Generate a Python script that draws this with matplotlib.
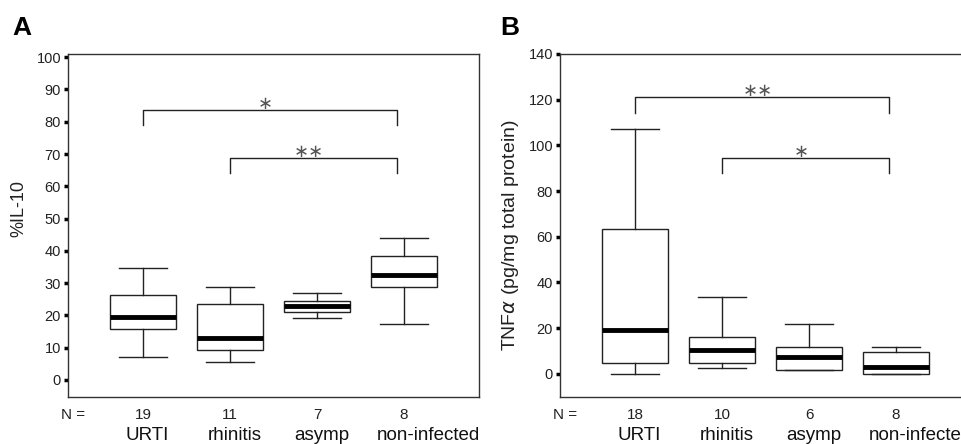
import matplotlib
matplotlib.use("Agg")
import matplotlib.pyplot as plt
from matplotlib.transforms import blended_transform_factory, offset_copy

plt.rcParams['font.family'] = ['Liberation Sans', 'DejaVu Sans']

categories = ["URTI", "rhinitis", "asymp", "non-infected"]

# Panel A: %IL-10
a_n = [19, 11, 7, 8]
a_whislo = [7.0, 5.7, 19.2, 17.2]
a_q1 = [15.9, 9.3, 20.9, 28.9]
a_med = [19.4, 13.1, 23.0, 32.6]
a_q3 = [26.2, 23.4, 24.4, 38.4]
a_whishi = [34.7, 28.8, 27.0, 44.1]
a_sig = [(1, 4, 83.7, "*"), (2, 4, 68.8, "**")]

# Panel B: TNFalpha
b_n = [18, 10, 6, 8]
b_whislo = [0.0, 2.5, 1.8, 0.0]
b_q1 = [4.7, 4.7, 1.8, 0.0]
b_med = [19.3, 10.2, 7.3, 2.9]
b_q3 = [63.2, 16.1, 11.7, 9.5]
b_whishi = [107.1, 33.6, 21.9, 11.7]
b_sig = [(1, 4, 121, "**"), (2, 4, 94.5, "*")]

# layout: horizontal nudges (data units) for the category names
label_nudge = [0.05, 0.06, 0.05, 0.28]

W, H = 961, 444
fig = plt.figure(figsize=(W / 100, H / 100), dpi=100)

def px_axes(l, t, r, b):
    return fig.add_axes([l / W, 1 - b / H, (r - l) / W, (b - t) / H])

def panel(ax, n, lo, q1, med, q3, hi, sig, ylim, yticks, ylabel, ylabel_size, ylab_xy):
    pos = [1, 2, 3, 4]
    stats = [dict(whislo=lo[i], q1=q1[i], med=med[i], q3=q3[i], whishi=hi[i], fliers=[])
             for i in range(4)]
    ax.bxp(stats, positions=pos, widths=0.76, showfliers=False, patch_artist=True,
           boxprops=dict(facecolor='white', edgecolor='#222222', linewidth=1.0),
           medianprops=dict(color='black', linewidth=3.5, solid_capstyle='butt'),
           whiskerprops=dict(color='#222222', linewidth=1.0),
           capprops=dict(color='#222222', linewidth=1.0), capwidths=0.55)
    ax.set_xlim(0.14, 4.86)
    ax.set_ylim(*ylim)
    ax.set_yticks(yticks)
    ax.tick_params(axis='y', direction='out', length=3, width=2.5, pad=2,
                   labelsize=10.5, labelcolor='#222222', color='black')
    ax.set_xticks(pos)
    ax.set_xticklabels([str(v) for v in n])
    ax.tick_params(axis='x', length=0, pad=8, labelsize=11, labelcolor='#222222')
    for s in ax.spines.values():
        s.set_color('#333333')
        s.set_linewidth(1.0)
    ax.set_ylabel(ylabel, fontsize=ylabel_size, color='#222222')
    ax.yaxis.set_label_coords(*ylab_xy)
    hgt = ax.get_position().height * H
    tr = blended_transform_factory(ax.transData, ax.transAxes)
    for p, c, d in zip(pos, categories, label_nudge):
        ax.text(p + d, -(440 - 397) / hgt, c, transform=tr, ha='center', va='baseline',
                fontsize=13.5, color='#111111', clip_on=False)
    ax.text(0.013, -(419 - 397) / hgt, "N =", transform=ax.transAxes, ha='center',
            va='baseline', fontsize=11, color='#222222', clip_on=False)
    yr = ylim[1] - ylim[0]
    for (i, j, y, s) in sig:
        x1, x2 = i, j - 0.08
        drop = 0.045 * yr
        ax.plot([x1, x1, x2, x2], [y - drop, y, y, y - drop], color='#222222', lw=1.0)
        ax.text((x1 + x2) / 2 - 0.05, y, s.replace("*", "\u2217"), ha='center',
                va='bottom', fontsize=13, color='#555555', family='DejaVu Sans',
                transform=offset_copy(ax.transData, fig=fig, y=-2, units='points'))

axA = px_axes(68, 54, 479, 397)
panel(axA, a_n, a_whislo, a_q1, a_med, a_q3, a_whishi, a_sig, (-5.3, 101),
      list(range(0, 101, 10)), "%IL-10", 13, (-0.10, 0.55))

axB = px_axes(560, 54, 971, 397)
panel(axB, b_n, b_whislo, b_q1, b_med, b_q3, b_whishi, b_sig, (-10.2, 140),
      list(range(0, 141, 20)), r"TNF$\alpha$ (pg/mg total protein)", 14, (-0.094, 0.472))

fig.text(12 / W, 1 - 28 / H, "A", fontsize=19, fontweight='bold', va='center', ha='left')
fig.text(500 / W, 1 - 28 / H, "B", fontsize=19, fontweight='bold', va='center', ha='left')

fig.savefig("out.png", dpi=100)
